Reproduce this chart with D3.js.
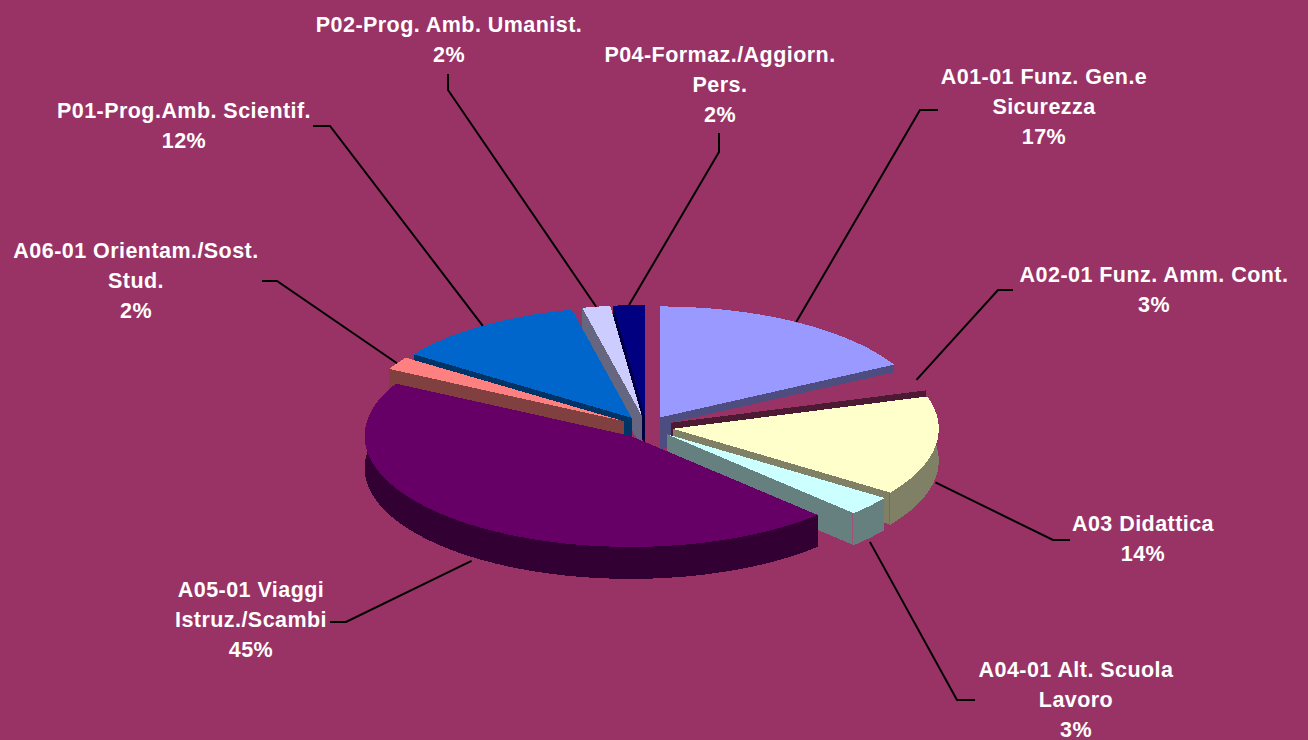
<!DOCTYPE html>
<html>
<head>
<meta charset="utf-8">
<script src="https://cdn.jsdelivr.net/npm/d3@7"></script>
<style>
  html, body { margin: 0; padding: 0; background: #993366; overflow: hidden; }
  svg { display: block; }
</style>
</head>
<body>
<div id="chart"></div>
<script>
const width = 1308
const height = 740

// dati
const voci = [
    ["A01-01 Funz. Gen.e", "Sicurezza"],
    ["A02-01 Funz. Amm. Cont."],
    ["A03 Didattica"],
    ["A04-01 Alt. Scuola", "Lavoro"],
    ["A05-01 Viaggi", "Istruz./Scambi"],
    ["A06-01 Orientam./Sost.", "Stud."],
    ["P01-Prog.Amb. Scientif."],
    ["P02-Prog. Amb. Umanist."],
    ["P04-Formaz./Aggiorn.", "Pers."]
]
const valori = [17.1, 3.2, 14.45, 2.85, 45.2, 1.9, 11.7, 1.7, 1.9]
const colori = ["#9999ff", "#993366", "#ffffcc", "#ccffff", "#660066", "#ff8080", "#0066cc", "#ccccff", "#000080"]

// layout: centro etichetta, prima linea di base, gomito della linea guida
const etichette_x = [1044, 1154, 1143, 1076, 251, 136, 184, 449, 720]
const etichette_y = [84, 282, 531, 677, 597, 258, 118, 32, 62]
const guida_inizio = [[938, 110], [1013, 290], [1070, 540], [975, 700], [330, 622], [262, 281], [313, 126], [448, 74], [719, 133]]
const guida_gomito = [[920, 110], [998, 290], [1053, 540], [957, 700], [346, 622], [277, 281], [330, 126], [448, 90], [719, 152]]
// ordine di disegno, dal fondo verso il davanti
const ordine = [8, 7, 6, 5, 0, 1, 2, 3, 4]

const cx = 646.5
const cy = 427
const rx = 266
const ry = 111
const spessore = 32
const esplosione = 0.1

const svg = d3.select("#chart").append("svg")
    .attr("width", width)
    .attr("height", height)
    .style("background-color", "#993366")

const scalaX = d3.scaleLinear().domain([-1, 1]).range([-rx, rx])
const scalaY = d3.scaleLinear().domain([-1, 1]).range([-ry, ry])

const pie = d3.pie().sort(null).value(d => d)
const fette = pie(valori).map((d, i) => {
    const medio = (d.startAngle + d.endAngle) / 2
    const [ex, ey] = d3.pointRadial(medio, esplosione)
    return { ...d, i, medio, ox: cx + scalaX(ex), oy: cy + scalaY(ey) }
})

const linea = d3.line()

function puntiArco(d, dy) {
    const n = Math.max(2, Math.ceil((d.endAngle - d.startAngle) * 40))
    return d3.range(n + 1).map(k => {
        const ang = d.startAngle + (d.endAngle - d.startAngle) * k / n
        const [x, y] = d3.pointRadial(ang, 1)
        return [d.ox + scalaX(x), d.oy + scalaY(y) + dy]
    })
}

const scuro = c => {
    const col = d3.rgb(c)
    return d3.rgb(col.r * 0.5, col.g * 0.5, col.b * 0.5).formatHex()
}

const gFette = svg.append("g").attr("id", "fette")

const gruppi = gFette.selectAll(".fetta")
    .data(ordine.map(i => fette[i]))
    .join("g")
    .attr("class", "fetta")
    .attr("shape-rendering", "crispEdges")

// parete esterna
gruppi.append("path")
    .attr("fill", d => scuro(colori[d.i]))
    .attr("d", d => linea([...puntiArco(d, 0), ...puntiArco(d, spessore).reverse()]) + "Z")

// facce di taglio
gruppi.append("path")
    .attr("fill", d => scuro(colori[d.i]))
    .attr("d", d => {
        const a = puntiArco(d, 0)
        const p0 = a[0]
        const p1 = a[a.length - 1]
        return linea([[d.ox, d.oy], p0, [p0[0], p0[1] + spessore], [d.ox, d.oy + spessore]]) + "Z"
            + linea([[d.ox, d.oy], p1, [p1[0], p1[1] + spessore], [d.ox, d.oy + spessore]]) + "Z"
    })

// spigolo sottile tra faccia di taglio e parete, solo davanti a destra
gruppi.filter(d => d.endAngle > Math.PI / 2 && d.endAngle < Math.PI)
    .append("path")
    .attr("fill", "none")
    .attr("stroke", "#a0507a")
    .attr("stroke-width", 1)
    .attr("d", d => {
        const p1 = puntiArco(d, 0).pop()
        return linea([[p1[0] - 1, p1[1]], [p1[0] - 1, p1[1] + spessore]])
    })

// faccia superiore
gruppi.append("path")
    .attr("fill", d => colori[d.i])
    .attr("d", d => linea([[d.ox, d.oy], ...puntiArco(d, 0)]) + "Z")

// linee guida: l'ultimo punto sta sul bordo della fetta
const gGuide = svg.append("g").attr("id", "guide")
gGuide.selectAll("path")
    .data(fette)
    .join("path")
    .attr("fill", "none")
    .attr("stroke", "black")
    .attr("stroke-width", 2)
    .attr("d", d => {
        const [x, y] = d3.pointRadial(d.medio, 1)
        const davanti = Math.cos(d.medio) < -0.1
        const fine = [d.ox + scalaX(x), d.oy + scalaY(y) + (davanti ? spessore + 4 : 0)]
        return linea([guida_inizio[d.i], guida_gomito[d.i], fine])
    })

const percento = d3.format(".0f")
const totale = d3.sum(valori)

const gTesti = svg.append("g").attr("id", "etichette")
const testi = gTesti.selectAll("text")
    .data(fette)
    .join("text")
    .attr("x", d => etichette_x[d.i])
    .attr("y", d => etichette_y[d.i])
    .attr("text-anchor", "middle")
    .attr("fill", "white")
    .attr("font-family", "'Liberation Sans', Arial, sans-serif")
    .attr("font-weight", "bold")
    .attr("font-size", 21.5)
    .attr("letter-spacing", 0.45)

testi.selectAll("tspan")
    .data(d => [...voci[d.i], percento(d.value / totale * 100) + "%"].map((t, k) => ({ t, k, i: d.i })))
    .join("tspan")
    .attr("x", d => etichette_x[d.i])
    .attr("dy", d => d.k === 0 ? 0 : 30)
    .text(d => d.t)
</script>
</body>
</html>
